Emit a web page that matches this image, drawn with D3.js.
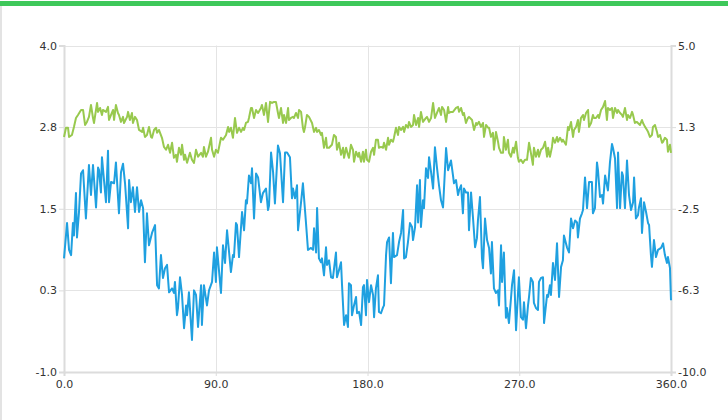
<!DOCTYPE html>
<html><head><meta charset="utf-8">
<script src="https://cdn.jsdelivr.net/npm/d3@7"></script>
<style>
html,body{margin:0;padding:0;background:#fff;}
svg{display:block;}
text{font-family:"DejaVu Sans",sans-serif;font-size:11px;fill:#333;}
</style></head>
<body>
<script>
const xTicks = [0, 90, 180, 270, 360];
const leftTicks = [-1.0, 0.25, 1.5, 2.75, 4.0];
const rightTicks = [-10.0, -6.25, -2.5, 1.25, 5.0];

// Blue series (left axis): [x, value]
const blueSeries = [
[0.0,0.74],[1.8,1.28],[3.0,0.87],[4.2,0.79],[5.3,1.28],[5.9,1.09],[7.1,1.74],[7.7,1.06],[8.9,1.45],[10.1,2.04],
[11.3,2.09],[13.0,1.35],[14.8,2.17],[16.0,1.71],[17.2,2.17],[19.0,1.52],[20.2,2.13],[20.8,2.09],[21.9,1.75],[22.5,2.29],
[24.9,1.60],[26.1,2.39],[26.7,1.60],[27.9,1.91],[29.7,1.89],[30.8,2.21],[32.6,1.43],[33.8,2.06],[35.0,2.19],[36.2,1.89],
[38.0,1.20],[38.6,1.94],[39.7,1.60],[40.9,1.83],[42.1,1.45],[43.3,1.83],[44.5,1.45],[45.7,1.63],[46.9,1.51],[48.0,0.68],
[49.2,1.43],[50.4,0.94],[52.2,1.13],[54.0,1.25],[55.2,0.33],[56.3,0.28],[57.5,0.79],[58.7,0.44],[59.9,0.59],[61.1,0.64],
[62.3,0.22],[64.1,0.28],[65.2,0.21],[65.8,0.38],[67.0,-0.13],[67.6,-0.02],[68.8,0.45],[70.0,0.18],[71.2,-0.33],[72.4,0.02],
[73.0,-0.13],[74.1,0.22],[75.9,-0.51],[77.1,0.25],[78.3,0.18],[79.5,-0.31],[81.3,0.33],[81.8,-0.28],[83.0,0.33],[84.8,0.02],
[86.0,0.25],[87.8,0.38],[89.0,0.83],[90.1,0.38],[90.7,0.91],[93.1,0.21],[94.3,0.94],[95.5,0.67],[96.7,1.17],[99.0,0.53],
[100.2,0.79],[100.8,0.76],[102.0,1.28],[102.6,1.25],[103.8,0.76],[105.6,1.45],[106.8,1.17],[107.9,1.63],[108.5,1.58],[109.7,2.01],
[110.9,1.89],[111.5,2.12],[112.7,1.35],[113.9,2.04],[115.1,1.98],[116.8,1.60],[118.0,1.74],[119.8,1.81],[121.0,1.48],[121.6,1.55],
[122.8,2.36],[124.0,2.06],[125.1,1.58],[126.9,2.47],[128.1,2.35],[129.9,1.60],[131.1,2.36],[132.3,2.36],[134.0,2.29],[135.2,1.66],
[135.8,1.81],[137.0,1.66],[138.2,1.86],[138.8,1.17],[140.6,1.60],[141.7,1.89],[143.5,1.29],[144.7,0.87],[146.5,0.90],[147.7,0.87],
[148.3,1.20],[149.5,0.83],[150.1,1.51],[151.2,0.74],[152.4,0.68],[153.0,0.74],[154.2,0.48],[155.4,0.91],[156.0,0.64],[157.2,0.71],
[158.4,0.45],[159.5,0.44],[161.3,0.83],[161.9,0.45],[163.1,0.56],[164.3,0.68],[164.9,0.33],[166.1,-0.28],[167.3,-0.13],[168.4,-0.31],
[169.0,0.36],[170.2,0.33],[170.8,-0.13],[172.0,0.02],[173.2,0.15],[173.8,-0.10],[175.0,-0.08],[176.2,-0.28],[177.3,0.30],[177.9,0.33],
[179.1,-0.13],[179.7,0.41],[180.9,0.07],[182.1,0.33],[183.3,0.18],[183.9,-0.16],[185.0,0.28],[186.2,0.48],[186.8,-0.08],[188.0,-0.10],
[189.2,-0.01],[189.8,0.02],[191.0,0.79],[191.6,0.99],[192.8,1.06],[193.9,0.36],[195.1,1.13],[195.7,0.76],[197.5,0.79],[198.7,0.99],
[199.9,1.13],[201.1,1.48],[201.7,0.74],[202.8,0.76],[204.0,0.99],[205.2,1.28],[206.4,1.22],[207.0,1.02],[208.2,1.22],[209.4,1.86],
[210.0,1.29],[211.1,1.94],[211.7,1.22],[212.9,1.63],[213.5,1.51],[214.7,2.12],[215.9,1.97],[216.5,2.29],[217.7,2.06],[218.9,1.81],
[220.0,2.44],[221.2,2.13],[222.4,1.86],[223.6,1.63],[224.8,1.52],[226.6,2.43],[227.8,2.09],[229.5,2.24],[230.7,2.01],[231.3,1.89],
[232.5,1.94],[233.7,1.71],[234.3,1.78],[235.5,1.86],[236.6,1.43],[237.2,1.81],[238.4,1.75],[239.6,1.75],[240.2,1.17],[241.4,1.75],
[242.6,1.35],[243.8,0.91],[244.9,1.05],[245.5,1.32],[246.7,1.68],[247.9,0.74],[248.5,0.59],[249.7,1.35],[250.9,1.02],[252.1,0.90],
[253.2,0.51],[253.8,0.99],[255.0,0.28],[256.2,0.21],[257.4,0.25],[258.0,0.02],[259.2,0.94],[259.8,0.38],[260.9,0.83],[262.1,-0.17],
[262.7,-0.02],[263.9,-0.25],[265.1,0.13],[265.7,0.33],[266.9,0.56],[268.1,-0.36],[269.2,0.18],[269.8,0.45],[271.0,-0.16],[272.2,-0.20],
[272.8,0.07],[274.0,-0.33],[275.2,0.02],[275.8,0.15],[276.9,0.44],[278.1,0.38],[278.7,0.06],[279.9,-0.02],[281.1,-0.05],[281.7,0.38],
[282.9,0.44],[284.1,0.45],[284.7,-0.25],[286.5,0.18],[287.1,0.15],[288.2,0.33],[288.8,0.18],[290.0,0.67],[291.2,0.41],[292.4,0.97],
[293.6,0.15],[294.8,0.61],[295.9,0.71],[296.5,1.09],[298.3,0.91],[299.5,0.83],[300.7,1.35],[301.9,1.20],[303.1,1.32],[304.3,1.29],
[304.8,1.06],[306.0,1.35],[307.2,1.43],[307.8,1.48],[309.0,1.98],[310.2,1.51],[311.4,1.91],[313.1,1.91],[313.7,1.43],[314.9,1.51],
[316.1,2.21],[316.7,2.09],[317.9,1.68],[319.1,1.71],[319.7,1.58],[320.9,2.01],[322.0,1.86],[322.6,1.78],[323.8,2.21],[325.0,2.49],
[325.6,2.43],[326.8,2.27],[328.0,1.51],[328.6,2.36],[329.8,1.51],[330.9,2.06],[331.5,2.01],[332.7,1.51],[333.9,2.24],[335.1,1.71],
[336.3,1.48],[337.5,1.60],[338.1,1.98],[339.2,1.35],[340.4,1.40],[341.0,1.52],[342.2,1.66],[342.8,1.13],[344.0,1.60],[345.2,1.45],
[346.4,1.28],[347.0,1.25],[348.1,0.79],[348.7,0.61],[349.9,1.02],[351.1,0.76],[352.3,0.87],[354.1,0.90],[355.3,0.97],[356.4,0.79],
[357.6,0.67],[358.2,0.76],[359.4,0.59],[360.0,0.10]
];

// Green series (right axis): [x, value]
const greenSeries = [
[0.0,0.80],[1.2,1.22],[2.4,1.22],[3.0,0.80],[4.7,0.89],[5.9,1.26],[7.1,1.67],[8.3,1.81],[10.1,2.04],[11.3,2.04],
[12.5,1.35],[13.6,1.49],[14.8,1.72],[16.0,2.27],[17.2,1.67],[17.8,1.44],[19.6,2.36],[20.2,1.95],[21.4,2.13],[22.5,1.81],
[23.1,2.04],[24.9,1.95],[26.1,2.18],[26.7,1.58],[27.9,1.81],[29.1,2.04],[29.7,1.58],[30.8,2.27],[32.0,1.90],[32.6,1.81],
[33.8,1.49],[35.0,1.72],[35.6,1.44],[37.4,1.72],[38.0,1.95],[39.1,1.58],[40.3,1.90],[40.9,1.44],[42.1,1.72],[43.3,1.58],
[44.5,1.12],[46.3,1.03],[46.9,1.22],[48.0,0.80],[49.2,0.89],[50.4,1.26],[51.6,0.80],[52.2,0.76],[53.4,1.12],[54.6,1.22],
[55.2,0.99],[56.3,1.12],[58.1,0.76],[59.3,0.34],[60.5,0.21],[61.7,0.44],[62.9,0.07],[64.1,0.53],[65.2,-0.16],[66.4,-0.02],
[67.0,-0.34],[68.2,0.30],[69.4,-0.02],[70.0,0.44],[71.2,-0.25],[71.8,-0.02],[73.0,-0.39],[74.7,0.07],[75.9,-0.25],[77.1,-0.39],
[78.3,0.21],[79.5,-0.11],[81.3,0.07],[82.4,-0.11],[83.0,0.34],[84.2,-0.11],[85.4,0.12],[87.2,0.76],[87.8,0.21],[89.0,-0.11],
[90.1,0.21],[91.3,0.07],[93.1,0.76],[94.3,0.67],[96.1,0.89],[97.3,1.26],[97.9,1.03],[99.0,1.22],[100.2,0.76],[101.4,1.67],
[102.6,0.99],[103.8,1.22],[105.0,1.03],[106.2,1.22],[106.8,1.12],[107.9,1.44],[109.1,1.49],[109.7,1.67],[110.9,2.13],[111.5,2.13],
[112.7,1.67],[113.9,2.04],[115.1,1.90],[116.8,2.13],[117.4,2.27],[118.6,1.81],[119.8,2.36],[121.0,1.49],[122.2,2.41],[123.4,2.36],
[124.6,2.41],[125.7,2.41],[126.9,1.90],[127.5,1.67],[128.7,2.13],[129.9,1.44],[130.5,1.81],[131.7,1.44],[132.9,2.13],[133.4,1.58],
[134.6,1.67],[135.8,1.72],[136.4,1.67],[137.6,1.90],[138.8,1.67],[139.4,2.04],[140.6,1.95],[141.7,1.22],[142.3,1.03],[142.9,1.22],
[144.1,1.81],[145.3,1.72],[147.1,1.44],[148.3,1.03],[149.5,1.22],[150.1,1.03],[151.2,1.12],[152.4,0.89],[153.0,0.99],[154.2,0.30],
[155.4,0.76],[156.0,0.30],[157.2,0.30],[158.9,0.44],[160.1,0.89],[161.3,0.80],[161.9,0.21],[163.1,0.53],[164.3,-0.02],[165.5,0.30],
[166.1,-0.16],[167.3,0.30],[168.4,-0.02],[169.0,-0.16],[170.2,0.44],[171.4,0.21],[172.0,-0.34],[173.2,0.12],[174.4,-0.11],[175.0,0.07],
[176.2,-0.34],[177.3,0.12],[177.9,-0.34],[179.1,0.21],[179.7,-0.25],[180.9,-0.34],[182.1,0.12],[183.3,0.30],[183.9,-0.02],[185.0,0.67],
[186.2,0.67],[186.8,0.30],[188.0,0.34],[189.2,0.30],[189.8,0.53],[191.0,0.21],[192.2,0.76],[192.8,0.44],[193.9,0.67],[195.1,0.58],
[195.7,0.76],[196.9,1.22],[198.1,0.89],[198.7,1.26],[199.9,1.12],[201.1,1.26],[201.7,1.03],[202.8,1.35],[204.0,1.22],[204.6,1.49],
[205.8,1.26],[207.0,1.35],[207.6,1.81],[208.8,1.35],[210.0,1.67],[210.6,1.26],[211.7,1.95],[212.9,1.49],[214.7,1.67],[215.3,1.72],
[216.5,1.49],[217.7,1.67],[218.9,2.36],[220.0,1.67],[221.2,1.90],[222.4,2.13],[223.6,1.81],[224.2,2.18],[225.4,2.04],[226.6,1.49],
[227.8,2.18],[228.3,1.90],[229.5,1.95],[230.7,1.95],[232.5,2.13],[233.7,2.18],[234.3,1.95],[235.5,2.13],[236.6,1.81],[237.2,1.90],
[238.4,1.44],[239.6,1.67],[240.2,1.72],[242.0,1.58],[243.2,1.12],[244.4,1.44],[244.9,1.35],[246.1,1.49],[247.3,1.26],[248.5,1.44],
[249.1,0.80],[250.3,1.35],[251.5,1.22],[252.1,1.22],[253.2,0.80],[254.4,0.99],[255.0,0.21],[256.2,1.03],[257.4,0.58],[258.0,0.30],
[259.2,0.07],[260.4,0.07],[260.9,0.80],[262.1,0.21],[263.3,0.67],[263.9,0.07],[265.1,-0.11],[266.3,0.30],[266.9,0.07],[268.1,0.58],
[269.2,-0.16],[269.8,-0.34],[271.0,-0.25],[272.2,-0.39],[273.4,-0.25],[274.6,-0.25],[275.8,0.53],[276.9,0.07],[278.1,-0.48],[278.7,0.30],
[279.9,-0.11],[281.1,0.21],[281.7,-0.11],[282.9,0.21],[284.1,0.30],[285.3,0.58],[286.5,-0.11],[287.1,0.30],[288.2,-0.11],[289.4,0.34],
[290.0,0.76],[291.2,0.53],[292.4,0.80],[293.0,0.58],[294.2,0.76],[295.4,0.58],[295.9,0.67],[297.7,0.44],[298.9,1.26],[299.5,1.12],
[300.7,1.49],[301.9,0.80],[302.5,1.12],[303.7,1.26],[304.8,1.58],[305.4,1.03],[306.6,1.67],[307.8,1.81],[308.4,1.58],[309.6,1.90],
[310.8,2.04],[311.4,1.26],[312.6,1.44],[313.7,1.81],[314.3,1.67],[315.5,1.67],[316.7,1.81],[317.3,1.67],[318.5,2.04],[319.7,2.18],
[320.9,2.45],[322.0,1.58],[322.6,2.13],[323.8,2.04],[325.0,2.13],[325.6,1.67],[326.8,2.13],[328.0,1.90],[328.6,2.04],[329.8,1.90],
[330.9,1.81],[331.5,1.72],[332.7,2.13],[333.9,1.58],[334.5,1.81],[335.7,1.67],[336.9,1.95],[337.5,1.81],[338.6,1.44],[339.8,1.49],
[340.4,1.44],[341.6,1.35],[342.8,1.58],[343.4,1.44],[344.6,1.26],[345.8,1.12],[346.4,1.03],[347.5,0.80],[348.7,0.89],[349.3,1.26],
[350.5,1.35],[351.7,1.03],[352.3,0.80],[353.5,0.89],[354.7,0.53],[355.3,0.58],[356.4,0.76],[357.6,0.67],[358.2,0.12],[359.4,0.44],
[360.0,0.07]
];

const W = 728, H = 420;
const m = {left: 64, right: 671, top: 45.5, bottom: 372};

const svg = d3.select("body").append("svg").attr("width", W).attr("height", H);

// frame decorations
svg.append("rect").attr("x", 0).attr("y", 1).attr("width", W).attr("height", 5).attr("fill", "#3ec85a");
svg.append("rect").attr("x", 0).attr("y", 6).attr("width", 2).attr("height", H - 6).attr("fill", "#e3e3e3");

const x = d3.scaleLinear().domain([0, 360]).range([m.left, m.right]);
const yL = d3.scaleLinear().domain([-1, 4]).range([m.bottom, m.top]);
const yR = d3.scaleLinear().domain([-10, 5]).range([m.bottom, m.top]);

const fmt = v => (+v).toFixed(1);

// grid
const g = svg.append("g");
g.selectAll(".hg").data(leftTicks).join("line")
  .attr("x1", m.left).attr("x2", m.right)
  .attr("y1", d => Math.round(yL(d)) + 0.5).attr("y2", d => Math.round(yL(d)) + 0.5)
  .attr("stroke", "#e4e4e4").attr("stroke-width", 1);
g.selectAll(".vg").data(xTicks).join("line")
  .attr("x1", d => Math.round(x(d)) + 0.5).attr("x2", d => Math.round(x(d)) + 0.5)
  .attr("y1", m.top).attr("y2", m.bottom)
  .attr("stroke", "#e4e4e4").attr("stroke-width", 1);

// axes
const axL = svg.append("g").attr("transform", `translate(${m.left},0)`)
  .call(d3.axisLeft(yL).tickValues(leftTicks).tickFormat(fmt).tickSize(5).tickPadding(2));
const axR = svg.append("g").attr("transform", `translate(${m.right},0)`)
  .call(d3.axisRight(yR).tickValues(rightTicks).tickFormat(fmt).tickSize(5).tickPadding(2));
const axB = svg.append("g").attr("transform", `translate(0,${m.bottom})`)
  .call(d3.axisBottom(x).tickValues(xTicks).tickFormat(fmt).tickSize(4).tickPadding(4));
[axL, axR, axB].forEach(a => {
  a.select(".domain").attr("stroke", "#dcdcdc").attr("stroke-width", 2);
  a.selectAll(".tick line").attr("stroke", "#dcdcdc");
  a.selectAll("text").attr("fill", "#333").style("font-family", '"DejaVu Sans",sans-serif').style("font-size", "11px");
});

// lines
const lineL = d3.line().x(d => x(d[0])).y(d => yL(d[1]));
const lineR = d3.line().x(d => x(d[0])).y(d => yR(d[1]));

svg.append("path").datum(greenSeries).attr("d", lineR)
  .attr("fill", "none").attr("stroke", "#98c94e").attr("stroke-width", 2).attr("stroke-linejoin", "round");
svg.append("path").datum(blueSeries).attr("d", lineL)
  .attr("fill", "none").attr("stroke", "#1fa0e0").attr("stroke-width", 2).attr("stroke-linejoin", "round");
</script>
</body></html>
